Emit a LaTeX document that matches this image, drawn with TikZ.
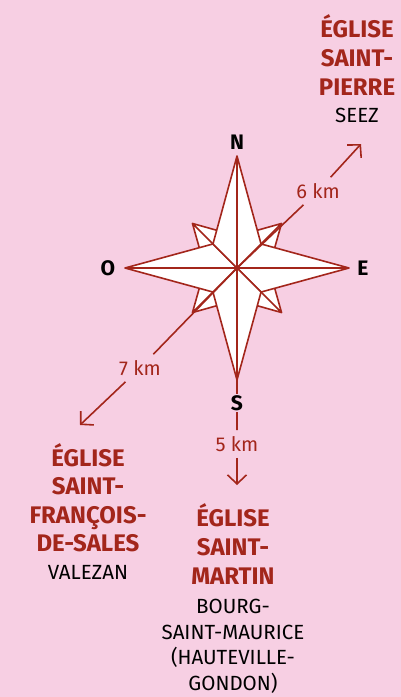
\documentclass[tikz,border=0pt]{standalone}
\usepackage{fontspec}
\setmainfont{Fira Sans}
\usetikzlibrary{arrows.meta}
\definecolor{rosebg}{RGB}{247,207,227}
\definecolor{brique}{RGB}{163,38,27}
\newcommand\titre[1]{{\fontsize{24}{29}\selectfont\bfseries\color{brique}#1}}
\begin{document}
\begin{tikzpicture}[x=1pt,y=-1pt,
    trait/.style={draw=brique,line width=1.6pt,line join=round},
    rose/.style={trait,fill=white},
    fleche/.style={draw=brique,line width=1.6pt,-{Straight Barb[length=9pt,width=19pt]}},
    dist/.style={text=brique,font=\fontsize{20}{24}\selectfont,inner sep=6pt},
    cardinal/.style={font=\fontsize{21}{25}\selectfont\bfseries,fill=rosebg,inner sep=1pt},
    eglise/.style={align=center,inner sep=0pt,anchor=north,font=\fontsize{20.5}{25.5}\selectfont}]
    \fill[rosebg] (0,0) rectangle (401,697);
    \useasboundingbox (0,0) rectangle (401,697);
    \path
    (237,268) coordinate (C)
    (361,144) coordinate (seez)
    (80,425) coordinate (valezan)
    (237,485) coordinate (bourg)
    ;
    % rose des vents
    \begin{scope}[shift={(C)}]
        \foreach \a in {45,135,225,315}
        \draw[rose] (0,0)--(\a-45:32)--(\a:63)--(\a+45:32)--cycle (0,0)--(\a:63);
        \foreach \a in {0,90,180,270}
        \draw[rose] (0,0)--(\a-45:34)--(\a:112)--(\a+45:34)--cycle (0,0)--(\a:112);
    \end{scope}
    % distances
    \node[dist] (km6) at (318,191) {6 km};
    \node[dist] (km7) at (140,368) {7 km};
    \node[dist] (km5) at (237,444) {5 km};
    \draw[trait] (C)--(km6) (C)--(km7) (C)--(km5);
    \draw[fleche] (km6)--(seez);
    \draw[fleche] (km7)--(valezan);
    \draw[fleche] (km5)--(bourg);
    \foreach \n/\p/\t in {nord/{237,142}/N,est/{363,268}/E,ouest/{108,268}/O,sud/{237,403}/S}
    \node[cardinal] (\n) at (\p) {\t};
    % eglises
    \node[eglise] (pierre) at (357,14) {\titre{ÉGLISE}\\[3.5pt]\titre{SAINT-}\\[3.5pt]\titre{PIERRE}\\[1.5pt]SEEZ};
    \node[eglise] (francois) at (88,443) {\titre{ÉGLISE}\\[3pt]\titre{SAINT-}\\[3pt]\titre{FRANÇOIS-}\\[3pt]\titre{DE-SALES}\\[2pt]VALEZAN};
    \node[eglise] (martin) at (233,503) {\titre{ÉGLISE}\\[3.5pt]\titre{SAINT-}\\[3.5pt]\titre{MARTIN}\\[4pt]BOURG-\\SAINT-MAURICE\\(HAUTEVILLE-\\GONDON)};
\end{tikzpicture}
\end{document}
